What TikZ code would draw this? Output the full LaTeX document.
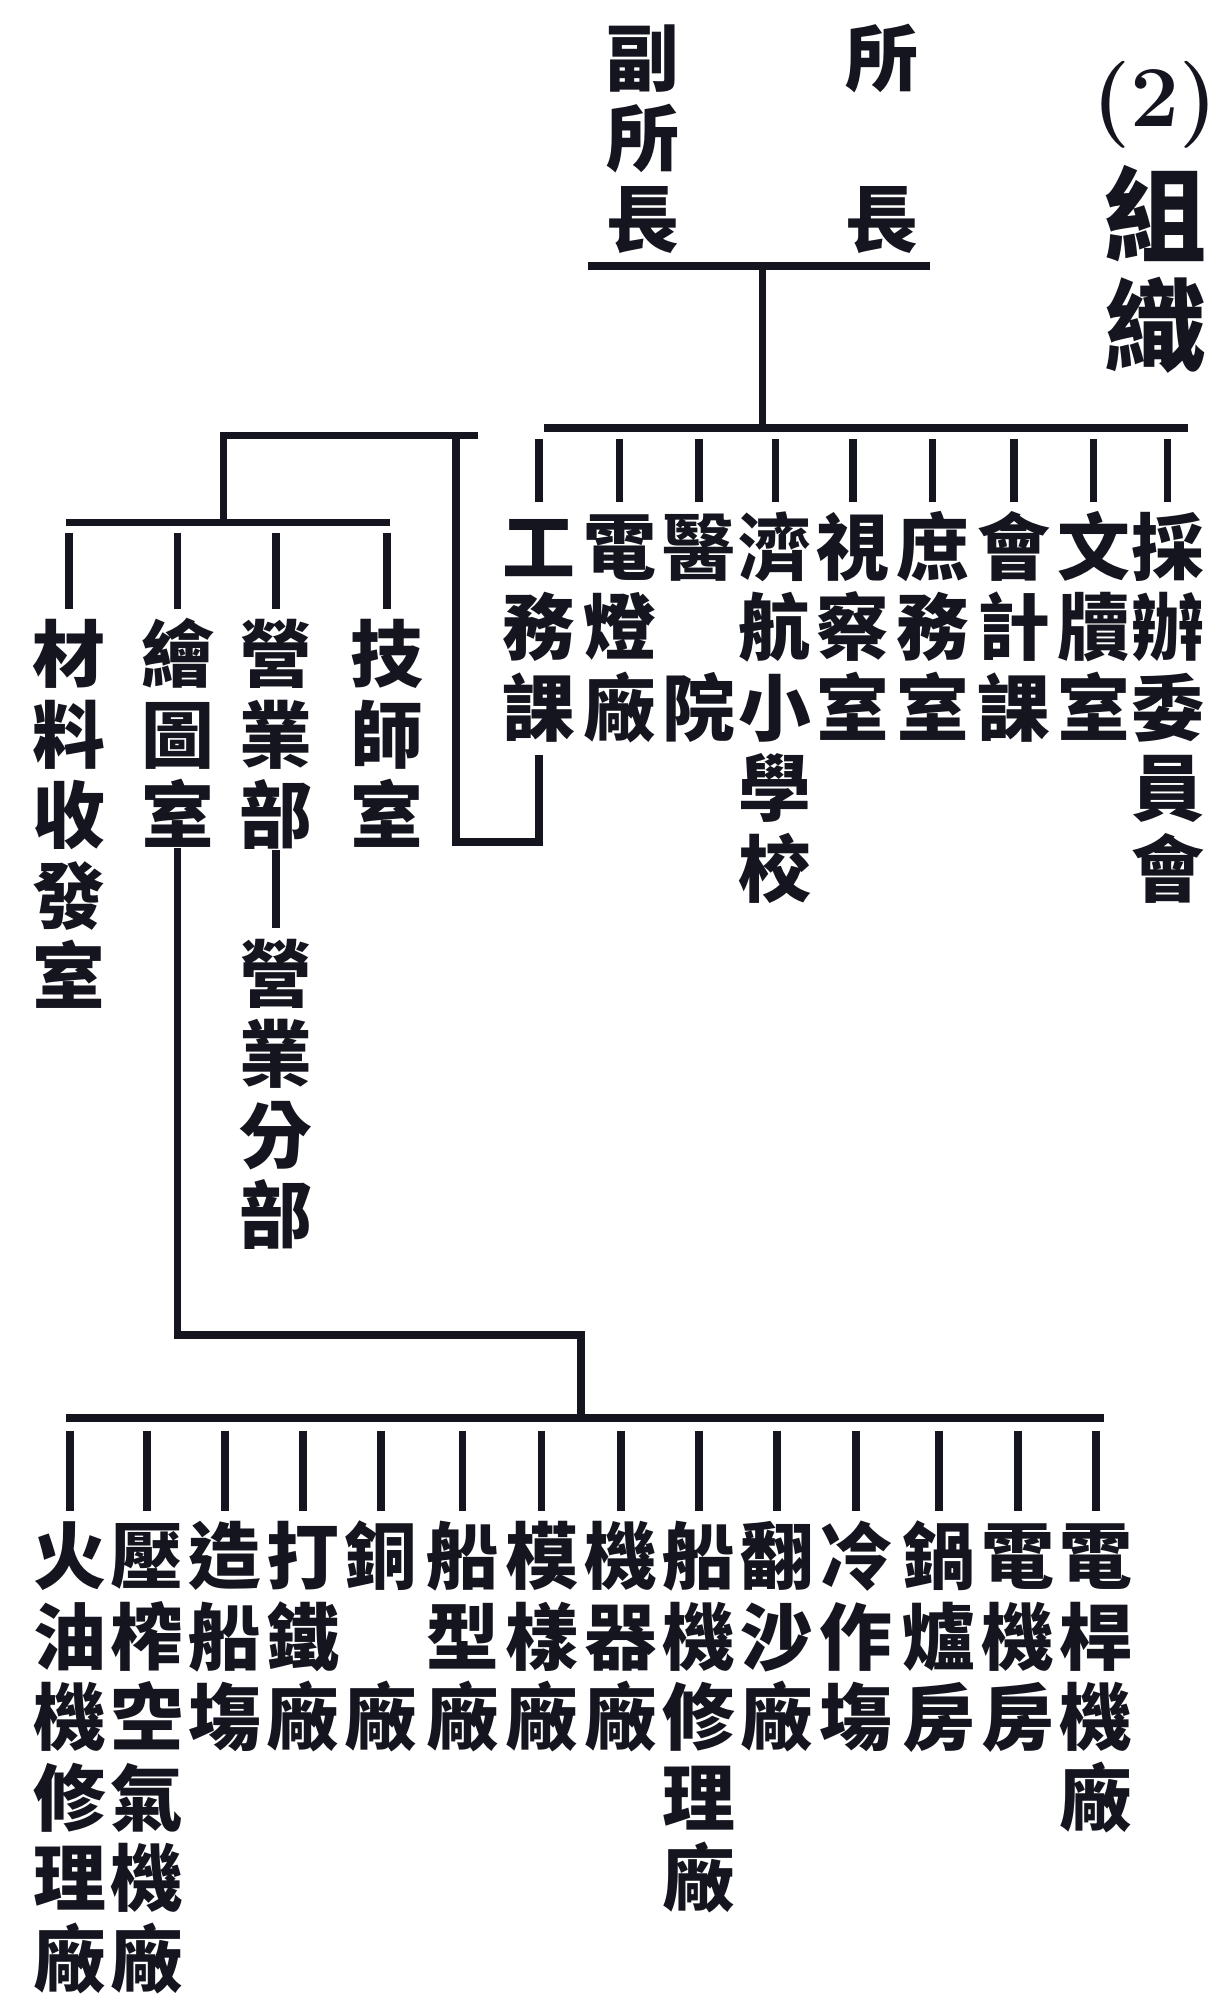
\documentclass[tikz,border=0pt]{standalone}
\usepackage{fontspec}
\newfontfamily\cjk{Noto Sans CJK TC}
\definecolor{ink}{HTML}{15151F}
\newcommand\topst{\rule{0pt}{1em}}
\tikzset{
  lbl/.style={anchor=north,inner sep=0pt,outer sep=0pt,align=center,text=ink,
    font=\cjk\bfseries\fontsize{57}{63}\selectfont},
  big/.style={lbl,font=\cjk\bfseries\fontsize{80}{87}\selectfont},
  ln/.style={draw=ink,line width=6pt},
}
\begin{document}
\begin{tikzpicture}[x=1pt,y=-1pt]
\useasboundingbox (0,0) rectangle (952,1568);
\fill[white] (0,0) rectangle (952,1568);

% head
\node[lbl] (fusuo) at (503,9.7) {\topst 副\\所\\長};
\node[lbl] (suozhang) at (690,9.7) {\topst 所\\\mbox{}\\長};
\node[anchor=center,inner sep=0pt,text=ink,font=\bfseries\fontsize{68}{68}\selectfont] (num) at (904,82) {(2)};
\node[big] (zuzhi) at (905,118.4) {\topst 組\\織};

\coordinate (hdL) at (460,208);
\coordinate (hdR) at (728,208);
\coordinate (hdC) at (597,208);
\coordinate (mainC) at (597,335);
\coordinate (mainL) at (426,335);
\coordinate (mainR) at (930,335);
\draw[ln] (hdL) -- (hdR);
\draw[ln] (hdC) -- (mainC);
\draw[ln] (mainL) -- (mainR);

% top departments
\node[lbl] (gongwu) at (422,392.7) {\topst 工\\務\\課};
\node[lbl] (diandeng) at (485,392.7) {\topst 電\\燈\\廠};
\node[lbl] (yiyuan) at (547,392.7) {\topst 醫\\\mbox{}\\院};
\node[lbl] (jihang) at (607,392.7) {\topst 濟\\航\\小\\學\\校};
\node[lbl] (shicha) at (668,392.7) {\topst 視\\察\\室};
\node[lbl] (shuwu) at (730,392.7) {\topst 庶\\務\\室};
\node[lbl] (kuaiji) at (794,392.7) {\topst 會\\計\\課};
\node[lbl] (wendu) at (856,392.7) {\topst 文\\牘\\室};
\node[lbl] (caiban) at (914,392.7) {\topst 採\\辦\\委\\員\\會};
\coordinate (tkT) at (0,344);
\foreach \n in {gongwu,diandeng,yiyuan,jihang,shicha,shuwu,kuaiji,wendu,caiban}
  \draw[ln] (\n.north |- tkT) -- (\n.north);

% bracket from gongwu
\coordinate (bkTopR) at (374,341);
\coordinate (bkTopL) at (175,341);
\coordinate (bkR) at (357,341);
\coordinate (bkRB) at (357,659);
\coordinate (subC) at (175,409);
\coordinate (subL) at (52,409);
\coordinate (subR) at (305,409);
\draw[ln] ([yshift=-10pt]gongwu.south) -- (gongwu.south |- bkRB) -- (bkRB) -- (bkR);
\draw[ln] (bkTopR) -- (bkTopL) -- (subC);
\draw[ln] (subL) -- (subR);

\node[lbl] (cailiao) at (54,476.7) {\topst 材\\料\\收\\發\\室};
\node[lbl] (huitu) at (139,476.7) {\topst 繪\\圖\\室};
\node[lbl] (yingye) at (216,476.7) {\topst 營\\業\\部};
\node[lbl] (jishi) at (303,476.7) {\topst 技\\師\\室};
\coordinate (tkS) at (0,417);
\foreach \n in {cailiao,huitu,yingye,jishi}
  \draw[ln] (\n.north |- tkS) -- (\n.north);

\node[lbl] (yingfen) at (216,726.7) {\topst 營\\業\\分\\部};
\draw[ln] (yingye.south) -- (yingfen.north);

% drawing office -> workshops
\coordinate (midC) at (455,1045);
\coordinate (botC) at (455,1110);
\coordinate (botL) at (52,1110);
\coordinate (botR) at (864,1110);
\draw[ln] (huitu.south) -- (huitu.south |- midC) -- (midC) -- (botC);
\draw[ln] (botL) -- (botR);

\node[lbl] (huoyou) at (55,1182.7) {\topst 火\\油\\機\\修\\理\\廠};
\node[lbl] (yazha) at (115,1182.7) {\topst 壓\\榨\\空\\氣\\機\\廠};
\node[lbl] (zaochuan) at (176,1182.7) {\topst 造\\船\\塲};
\node[lbl] (datie) at (237,1182.7) {\topst 打\\鐵\\廠};
\node[lbl] (tong) at (298,1182.7) {\topst 銅\\\mbox{}\\廠};
\node[lbl] (chuanxing) at (362,1182.7) {\topst 船\\型\\廠};
\node[lbl] (moyang) at (424,1182.7) {\topst 模\\樣\\廠};
\node[lbl] (jiqi) at (486,1182.7) {\topst 機\\器\\廠};
\node[lbl] (chuanji) at (547,1182.7) {\topst 船\\機\\修\\理\\廠};
\node[lbl] (fansha) at (608,1182.7) {\topst 翻\\沙\\廠};
\node[lbl] (lengzuo) at (670,1182.7) {\topst 冷\\作\\塲};
\node[lbl] (guolu) at (735,1182.7) {\topst 鍋\\爐\\房};
\node[lbl] (dianji) at (797,1182.7) {\topst 電\\機\\房};
\node[lbl] (diangan) at (858,1182.7) {\topst 電\\桿\\機\\廠};
\coordinate (tkB) at (0,1120);
\foreach \n in {huoyou,yazha,zaochuan,datie,tong,chuanxing,moyang,jiqi,chuanji,fansha,lengzuo,guolu,dianji,diangan}
  \draw[ln] (\n.north |- tkB) -- (\n.north);
\end{tikzpicture}
\end{document}
